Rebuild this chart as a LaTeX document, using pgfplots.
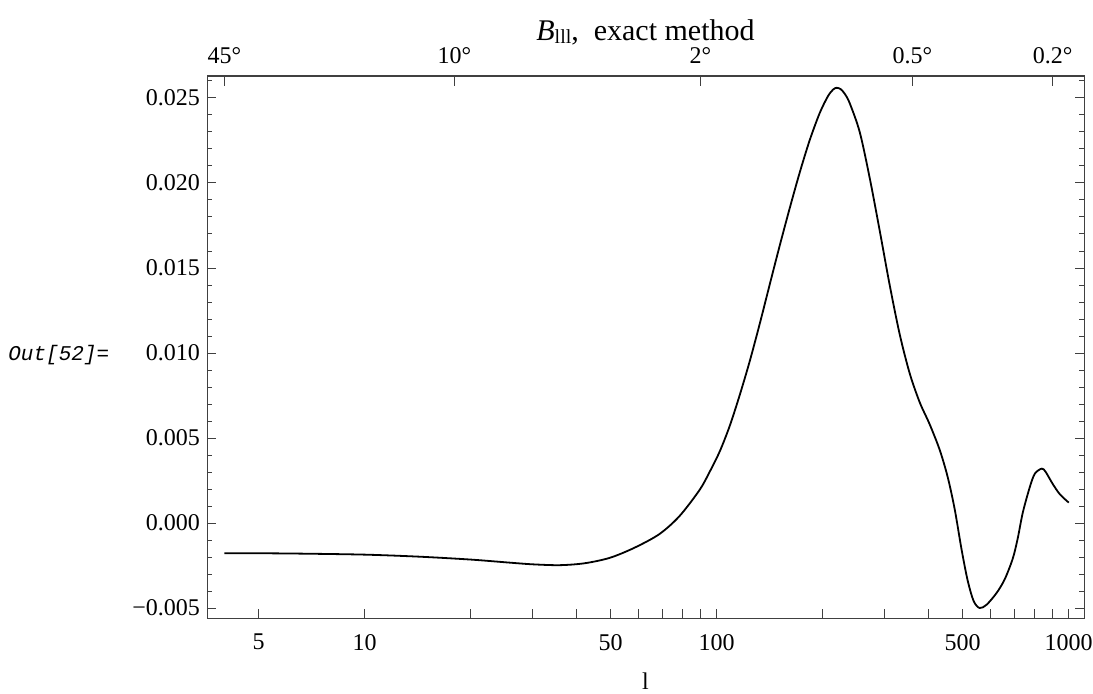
\documentclass[border=0pt]{standalone}
\usepackage{fontspec}
\setmainfont{Liberation Serif}
\newfontfamily\cour{Liberation Mono}
\usepackage{pgfplots}
\pgfplotsset{compat=1.18}
\begin{document}
\begin{tikzpicture}
\begin{axis}[name=ax, scale only axis, width=438.5pt, height=271pt,
  xmode=log, xmin=3.57, xmax=1105, ymin=-0.005588, ymax=0.026294,
  scaled y ticks=false,
  axis line style={black!75, line width=0.5pt},
  xtick={5,10,50,100,500,1000}, xticklabels={5,10,50,100,500,1000},
  extra x ticks={20,30,40,60,70,80,90,200,300,400,600,700,800,900},
  extra x tick labels={},
  xtick pos=bottom,
  ytick={-0.005,0,0.005,0.01,0.015,0.02,0.025},
  yticklabels={−0.005,0.000,0.005,0.010,0.015,0.020,0.025},
  minor ytick={-0.004,-0.003,-0.002,-0.001,0.001,0.002,0.003,0.004,0.006,0.007,0.008,0.009,0.011,0.012,0.013,0.014,0.016,0.017,0.018,0.019,0.021,0.022,0.023,0.024,0.026},
  ytick pos=both,
  major tick length=4.5pt, minor tick length=2.5pt,
  every tick/.style={black!75, line width=0.5pt},
  tick label style={font=\fontsize{12}{14}\selectfont},
  xticklabel style={yshift=-4.5pt},
  clip=false,
]
\addplot[black, line width=0.9pt, smooth, tension=0.5] coordinates {
(4,-0.00178) (5,-0.00178) (6.54,-0.00180) (10,-0.00186) (14.3,-0.00198) (20,-0.00215)
(25.8,-0.00233) (30,-0.00243) (35.8,-0.00248) (42.1,-0.00237) (49.7,-0.00205)
(58.5,-0.00145) (68.8,-0.00065) (78.4,0.00040) (89.5,0.00195) (95.5,0.00300)
(102.0,0.00420) (108.9,0.00570) (116.2,0.00750) (124.1,0.00950) (132.5,0.01170)
(141.4,0.01400) (151.0,0.01630) (161.2,0.01850) (172.1,0.02060) (183.7,0.02250)
(196.1,0.02410) (207.0,0.02510) (214.3,0.02550) (219.3,0.02560) (225.0,0.02552)
(231.1,0.02525) (238.7,0.02470)
(254.9,0.02300) (272.1,0.02030) (290.5,0.01720) (310.1,0.01400) (331.1,0.01110)
(353.5,0.00880) (377.4,0.00710) (402.9,0.00580) (430.1,0.00430) (453.2,0.00270)
(474.5,0.00080) (496.6,-0.00160) (516.6,-0.00340) (537.2,-0.00460) (558.7,-0.00500)
(584.8,-0.00480) (624.6,-0.00410) (658.3,-0.00330) (693.4,-0.00210) (716.5,-0.00090)
(740.3,0.00060) (775.0,0.00210) (801.0,0.00290) (838.5,0.00320) (860.3,0.00300)
(900.5,0.00230) (942.8,0.00170) (1000,0.00120)
};
\end{axis}
\begin{axis}[at={(ax.south west)}, anchor=south west, scale only axis,
  width=438.5pt, height=271pt,
  xmode=log, xmin=3.57, xmax=1105, ymin=0, ymax=1,
  axis x line*=top, hide y axis,
  axis line style={black!75, line width=0.5pt},
  xtick={4,18,90,360,900}, xticklabels={45°,10°,2°,0.5°,0.2°},
  major tick length=5pt,
  every tick/.style={black!75, line width=0.5pt},
  tick label style={font=\fontsize{12}{14}\selectfont},
  xticklabel style={yshift=2.5pt},
]
\addplot[draw=none] coordinates {(10,0.5)};
\end{axis}
\node[anchor=base] at ([yshift=17.5pt]ax.north) {\fontsize{15}{17}\selectfont\textit{B}\raisebox{-1.5pt}{\fontsize{10}{12}\selectfont lll},\ \ exact method};
\node[anchor=north, inner sep=0pt] at ([yshift=-27pt]ax.south) {\fontsize{12}{14}\selectfont l};
\node[anchor=west, inner sep=0pt] at ([xshift=-99.5pt,yshift=131.5pt]ax.south west) {\cour\itshape\fontsize{10.5}{12}\selectfont Out[52]=};
\pgfresetboundingbox
\path[use as bounding box] ([xshift=-103.5pt,yshift=-37.5pt]ax.south west) rectangle ([xshift=4.5pt,yshift=38pt]ax.north east);
\end{tikzpicture}
\end{document}
